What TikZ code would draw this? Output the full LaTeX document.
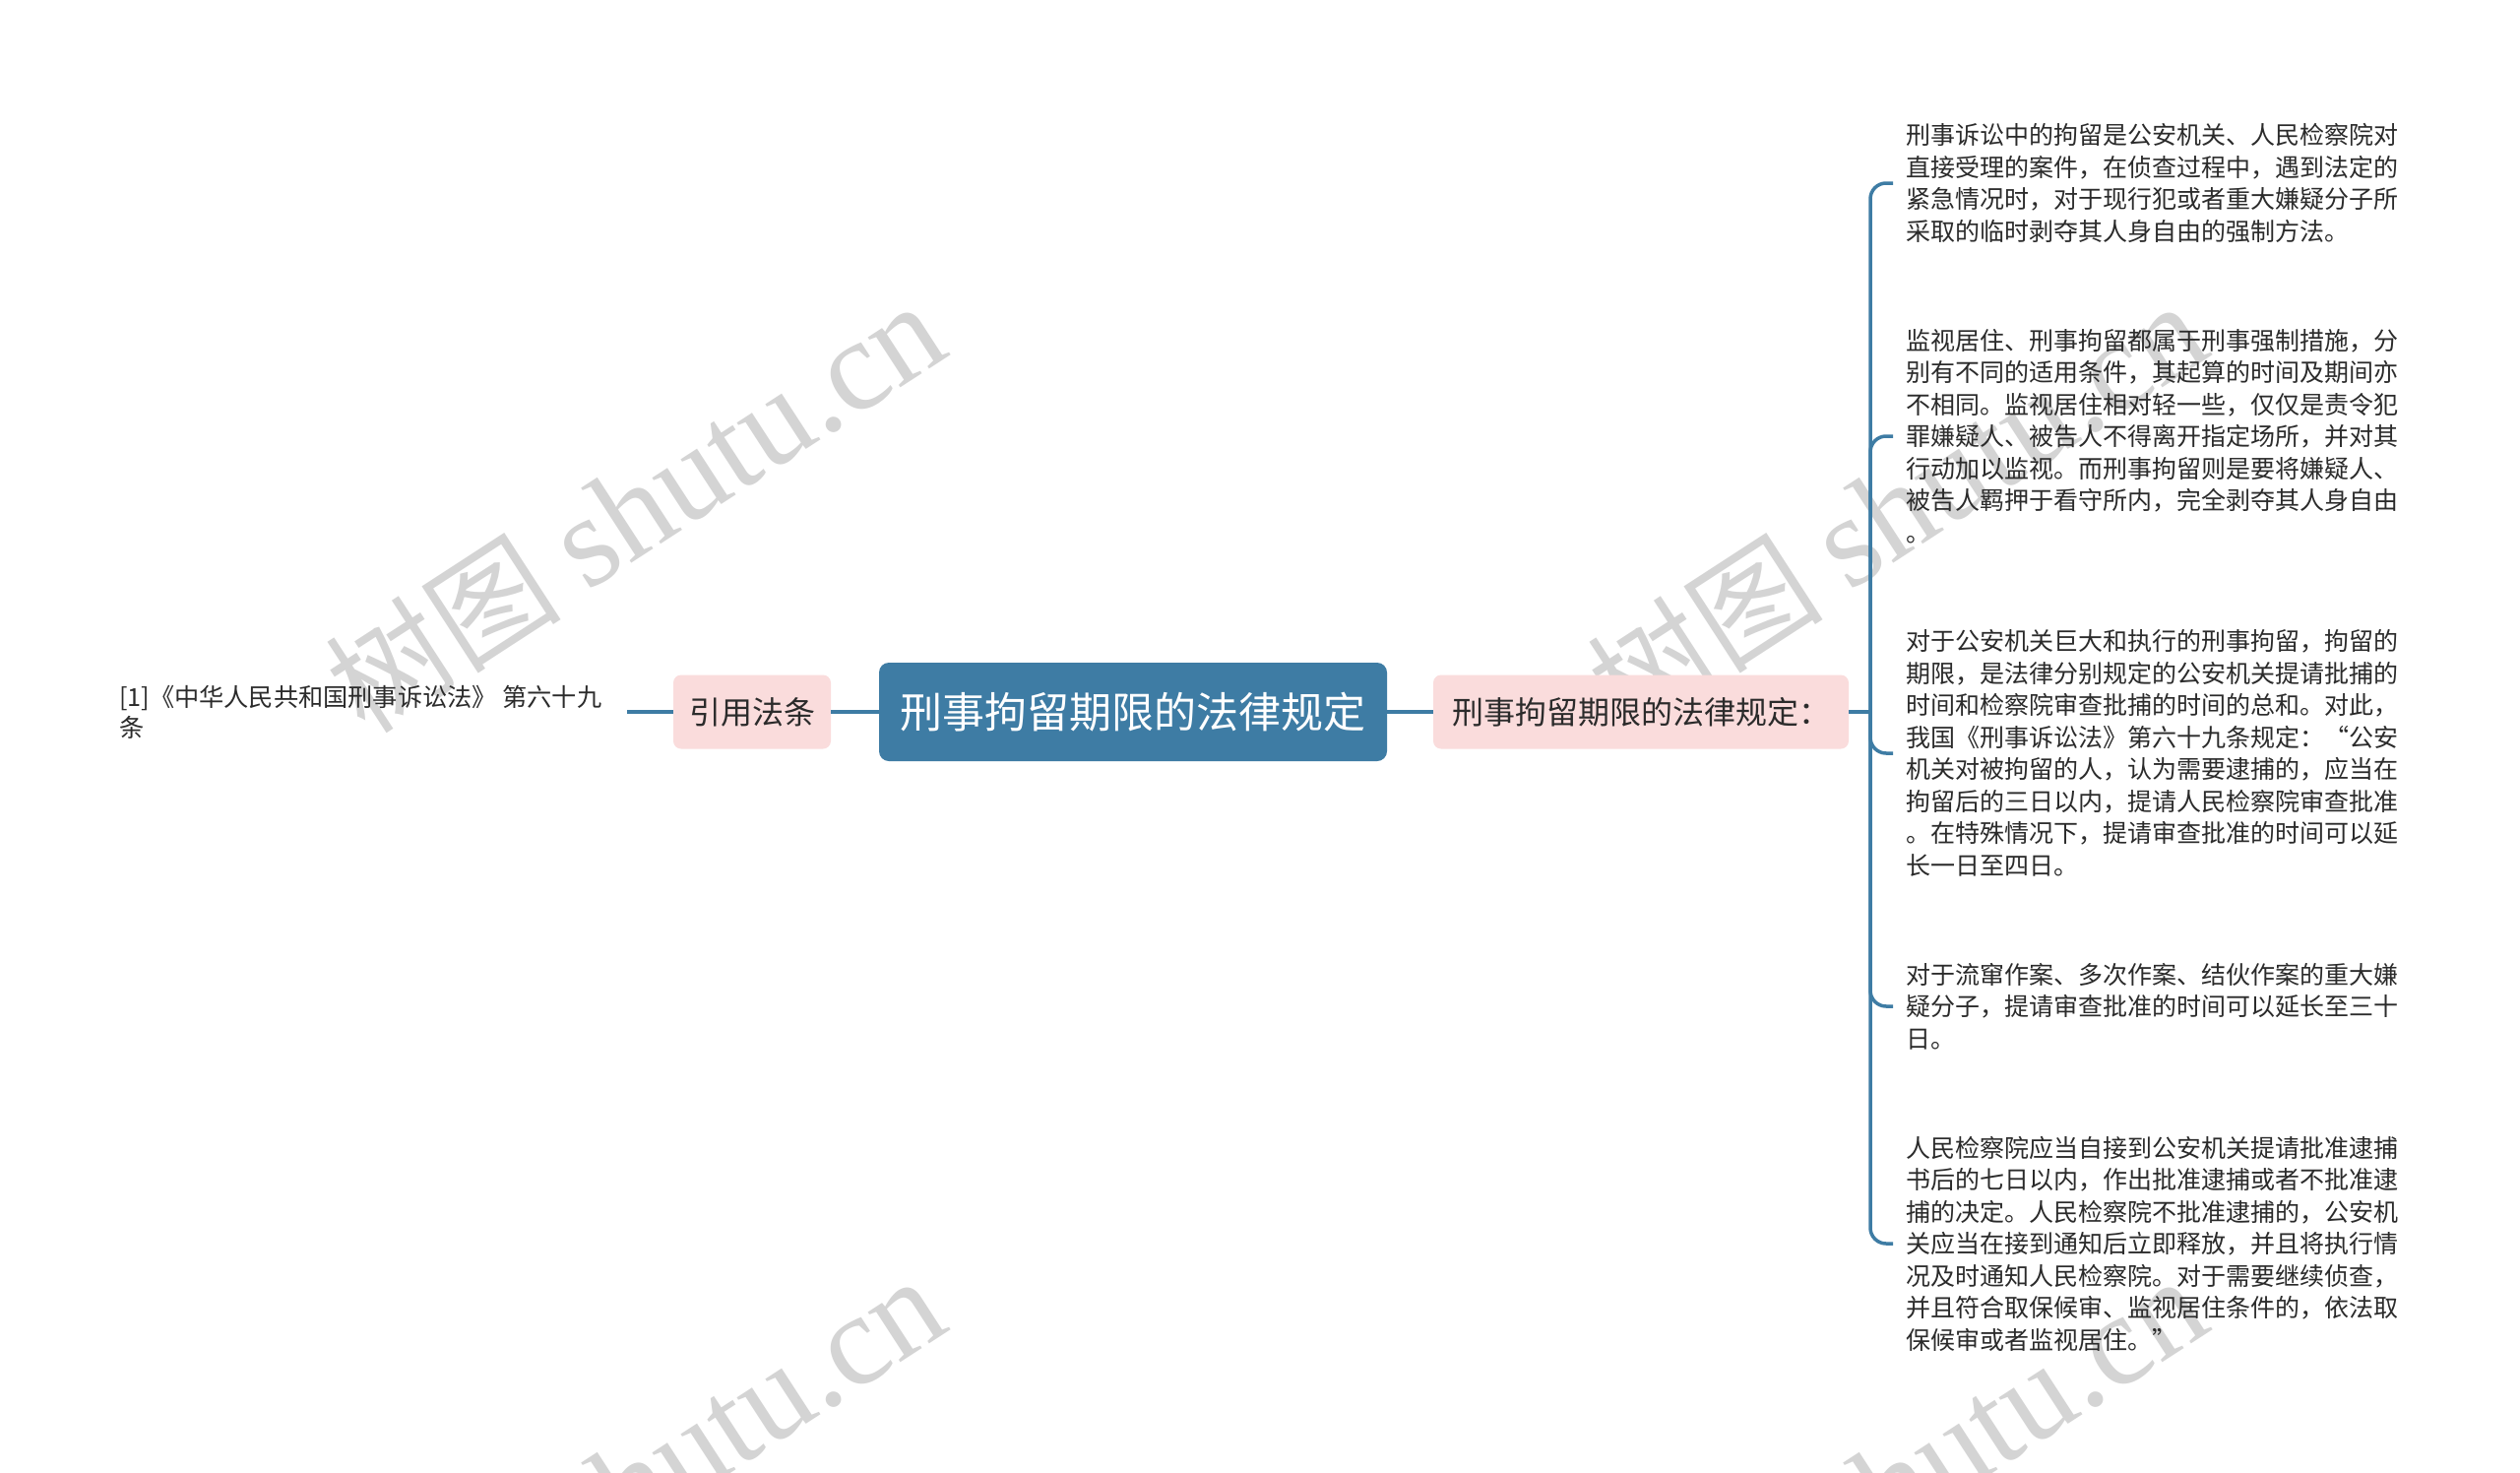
\documentclass[tikz,border=0pt]{standalone}
\usepackage{fontspec}
\newfontfamily\cjk{Noto Sans CJK SC}
\newfontfamily\wmserif{Liberation Serif}
\definecolor{mainblue}{HTML}{3E7CA4}
\definecolor{linkblue}{HTML}{3E7CA4}
\definecolor{pinkfill}{HTML}{FADCDC}
\definecolor{txt}{HTML}{2B2B2B}
\definecolor{wm}{HTML}{D4D4D4}
\newcommand{\wmtext}{{\cjk\fontsize{120}{120}\selectfont 树图}\hspace{28pt}{\wmserif\fontsize{132}{132}\selectfont shutu.cn}}
\begin{document}
\begin{tikzpicture}[x=1pt,y=-1pt,
  every node/.style={inner sep=0pt, outer sep=0pt},
  rootbox/.style={fill=mainblue, rounded corners=10pt, minimum width=516pt, minimum height=100pt, text=white, font=\cjk\fontsize{43}{50}\selectfont},
  pinkbox/.style={fill=pinkfill, rounded corners=8pt, minimum height=75pt, text=txt, font=\cjk\fontsize{32}{36}\selectfont},
  leaf/.style={anchor=west, align=left, text=txt, font=\cjk\fontsize{25}{32.5}\selectfont},
  reftext/.style={anchor=west, align=left, text=txt, font=\cjk\fontsize{25.2}{31}\selectfont},
  link/.style={draw=linkblue, line width=3.5pt},
  branch/.style={link, rounded corners=16pt},
  wmark/.style={text=wm, rotate=33}
]
\useasboundingbox (0,0) rectangle (2560,1496);
\clip (0,0) rectangle (2560,1496);
\fill[white] (0,0) rectangle (2560,1496);

% watermarks
\node[wmark] (wm1) at (645,515) {\wmtext};
\node[wmark] (wm2) at (1927,515) {\wmtext};
\node[wmark] (wm3) at (645,1505) {\wmtext};
\node[wmark] (wm4) at (1927,1505) {\wmtext};

% nodes
\node[rootbox] (root) at (1151,723) {刑事拘留期限的法律规定};
\node[pinkbox, minimum width=160pt] (yy) at (764,723) {引用法条};
\node[pinkbox, minimum width=422pt] (rp) at (1667,723) {刑事拘留期限的法律规定：};
\node[reftext] (lt) at (121,723) {[1]《中华人民共和国刑事诉讼法》 第六十九\\条};

\node[leaf] (l1) at (1936,186) {刑事诉讼中的拘留是公安机关、人民检察院对\\直接受理的案件，在侦查过程中，遇到法定的\\紧急情况时，对于现行犯或者重大嫌疑分子所\\采取的临时剥夺其人身自由的强制方法。};
\node[leaf] (l2) at (1936,443) {监视居住、刑事拘留都属于刑事强制措施，分\\别有不同的适用条件，其起算的时间及期间亦\\不相同。监视居住相对轻一些，仅仅是责令犯\\罪嫌疑人、被告人不得离开指定场所，并对其\\行动加以监视。而刑事拘留则是要将嫌疑人、\\被告人羁押于看守所内，完全剥夺其人身自由\\。};
\node[leaf] (l3) at (1936,765) {对于公安机关巨大和执行的刑事拘留，拘留的\\期限，是法律分别规定的公安机关提请批捕的\\时间和检察院审查批捕的时间的总和。对此，\\我国《刑事诉讼法》第六十九条规定：“公安\\机关对被拘留的人，认为需要逮捕的，应当在\\拘留后的三日以内，提请人民检察院审查批准\\。在特殊情况下，提请审查批准的时间可以延\\长一日至四日。};
\node[leaf] (l4) at (1936,1022) {对于流窜作案、多次作案、结伙作案的重大嫌\\疑分子，提请审查批准的时间可以延长至三十\\日。};
\node[leaf] (l5) at (1936,1263) {人民检察院应当自接到公安机关提请批准逮捕\\书后的七日以内，作出批准逮捕或者不批准逮\\捕的决定。人民检察院不批准逮捕的，公安机\\关应当在接到通知后立即释放，并且将执行情\\况及时通知人民检察院。对于需要继续侦查，\\并且符合取保候审、监视居住条件的，依法取\\保候审或者监视居住。”};

% connectors
\coordinate (ls) at (637,723);
\draw[link] (ls) -- (yy.west);
\draw[link] (yy.east) -- (root.west);
\draw[link] (root.east) -- (rp.west);
\coordinate (jx) at (1900,723);
\draw[link] (rp.east) -- (jx);
\foreach \n in {l1,l2,l3,l4,l5}{
  \draw[branch] (jx) -- (jx |- \n.west) -- ([xshift=-13pt]\n.west);
}
\end{tikzpicture}
\end{document}
